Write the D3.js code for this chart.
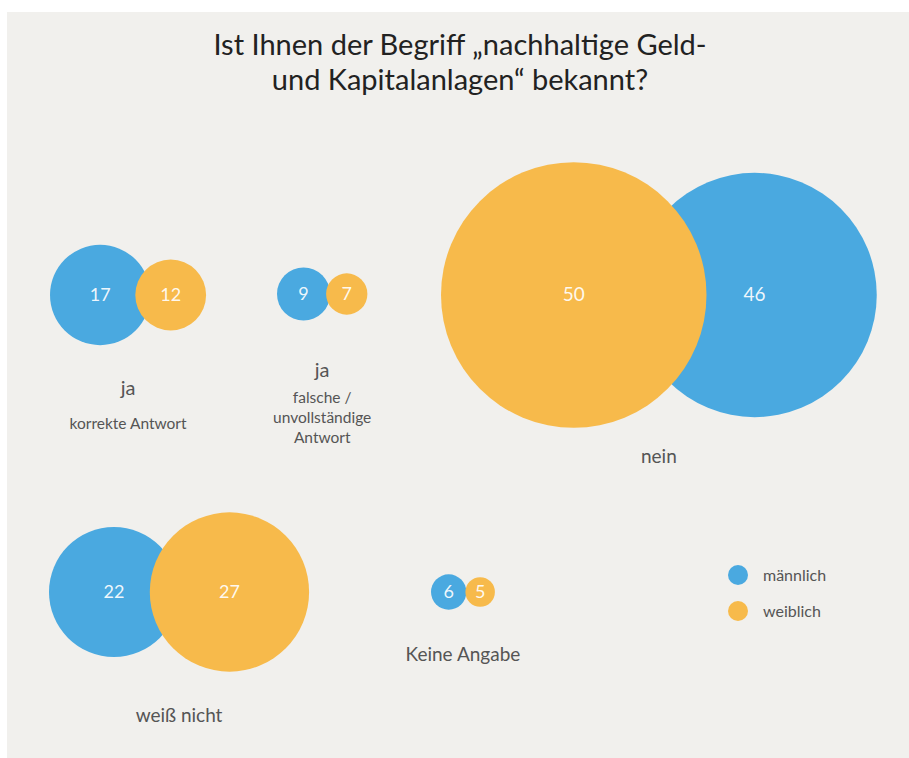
<!DOCTYPE html>
<html>
<head>
<meta charset="utf-8">
<script src="https://cdn.jsdelivr.net/npm/d3@7"></script>
<style>
  html, body { margin: 0; padding: 0; background: #ffffff; }
  svg { display: block; }
  text { font-family: Lato, "Open Sans", sans-serif; }
</style>
</head>
<body>
<svg id="chart" width="909" height="758"></svg>
<script>
// ---- data ----
const titleLines = ["Ist Ihnen der Begriff „nachhaltige Geld-", "und Kapitalanlagen“ bekannt?"];
const categories = ["ja", "ja", "nein", "weiß nicht", "Keine Angabe"];
const subLabels = [["korrekte Antwort"], ["falsche /", "unvollständige", "Antwort"], [], [], []];
const seriesNames = ["männlich", "weiblich"];
const maleValues = [17, 9, 46, 22, 6];
const femaleValues = [12, 7, 50, 27, 5];

// ---- layout (positions only) ----
const groupLeft = [50, 277, 441, 49, 431];
const groupCy = [295, 294, 295, 592, 592];
const groupOverlap = [15, 4, 74, 29, 1];
const groupScale = [1, 1, 0.9, 1, 1];
const femaleFirst = [false, false, true, false, false];
const labelY = [395, 377, 463, 722, 661];

const W = 909, H = 758;
const colors = { "männlich": "#4aa9e0", "weiblich": "#f7ba4b" };
const svg = d3.select("#chart");

svg.append("rect").attr("x", 7).attr("y", 12).attr("width", W - 7).attr("height", H - 12)
  .attr("fill", "#f1f0ed");

// title
svg.append("g").selectAll("text").data(titleLines).join("text")
  .attr("x", 460).attr("y", (d, i) => 55 + i * 35)
  .attr("text-anchor", "middle").attr("font-size", 29).attr("fill", "#222")
  .text(d => d);

const rScale = d3.scaleLinear().domain([0, 50]).range([0, 147.5]);

categories.forEach((cat, i) => {
  const rm = rScale(maleValues[i]) * groupScale[i];
  const rf = rScale(femaleValues[i]) * groupScale[i];
  const first = femaleFirst[i] ? { s: "weiblich", r: rf, v: femaleValues[i] } : { s: "männlich", r: rm, v: maleValues[i] };
  const second = femaleFirst[i] ? { s: "männlich", r: rm, v: maleValues[i] } : { s: "weiblich", r: rf, v: femaleValues[i] };
  first.cx = groupLeft[i] + first.r;
  second.cx = first.cx + first.r + second.r - groupOverlap[i];
  const right = second.cx + second.r;
  const midX = (groupLeft[i] + right) / 2;
  // draw male first, female on top
  const circles = [first, second].sort((a, b) => (a.s === "männlich" ? -1 : 1));
  const g = svg.append("g");
  g.selectAll("circle").data(circles).join("circle")
    .attr("cx", d => d.cx).attr("cy", groupCy[i]).attr("r", d => d.r)
    .attr("fill", d => colors[d.s]);
  g.selectAll("text.val").data(circles).join("text").attr("class", "val")
    .attr("x", d => d.cx).attr("y", groupCy[i] + 6)
    .attr("text-anchor", "middle").attr("font-size", i === 2 ? 19 : 18)
    .attr("fill", "#ffffff").attr("fill-opacity", 0.92)
    .text(d => d.v);
  // labels
  const subs = subLabels[i];
  g.append("text").attr("x", midX).attr("y", labelY[i])
    .attr("text-anchor", "middle").attr("font-size", subs.length ? 20 : 19)
    .attr("fill", "#555").text(cat);
  g.selectAll("text.sub").data(subs).join("text").attr("class", "sub")
    .attr("x", midX).attr("y", (d, j) => labelY[i] + (subs.length > 1 ? 26 : 34) + j * 20)
    .attr("text-anchor", "middle").attr("font-size", 15.5).attr("fill", "#555")
    .text(d => d);
});

// legend
const leg = svg.append("g").selectAll("g").data(seriesNames).join("g")
  .attr("transform", (d, i) => `translate(738,${575 + i * 36})`);
leg.append("circle").attr("r", 10).attr("fill", d => colors[d]);
leg.append("text").attr("x", 25).attr("y", 5.5).attr("font-size", 16).attr("fill", "#555").text(d => d);
</script>
</body>
</html>
